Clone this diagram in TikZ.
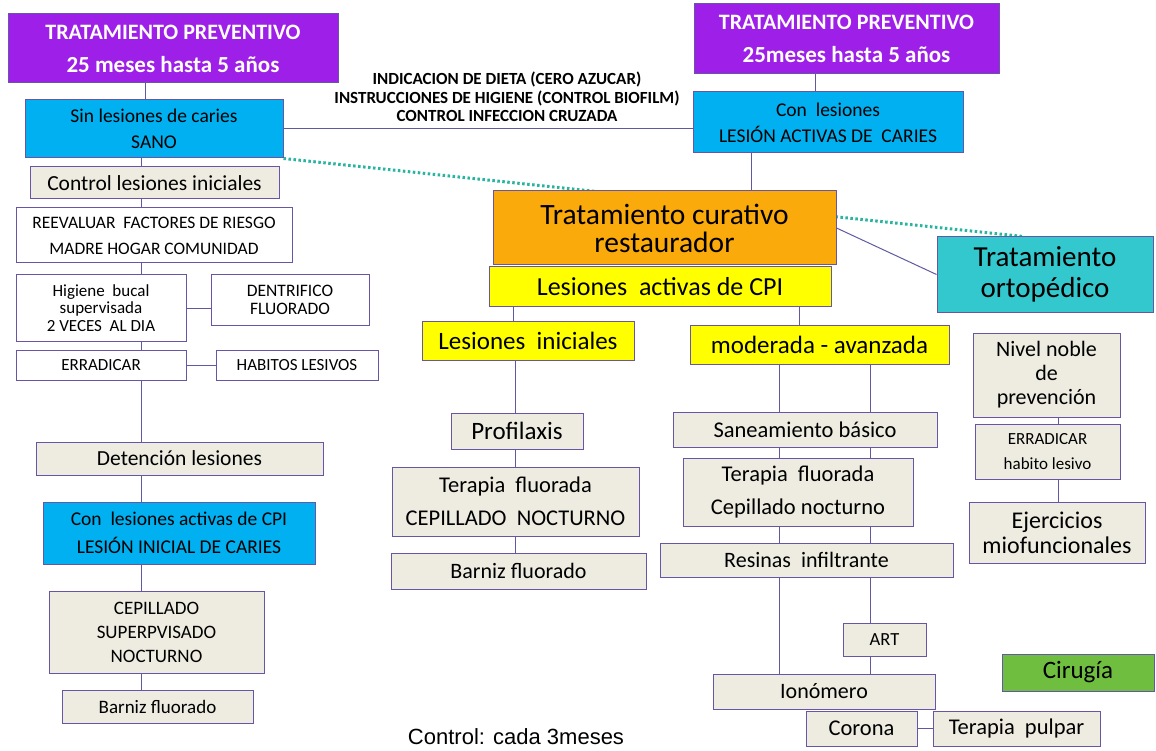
\documentclass[tikz,border=0pt]{standalone}
\usepackage{fontspec}
\setmainfont{Carlito}
\newfontfamily\arialfont{Liberation Sans}
\usetikzlibrary{calc,backgrounds}

\definecolor{violeta}{RGB}{158,31,232}
\definecolor{celeste}{RGB}{0,176,240}
\definecolor{naranja}{RGB}{250,170,10}
\definecolor{amarillo}{RGB}{255,255,0}
\definecolor{turquesa}{RGB}{50,200,205}
\definecolor{verde}{RGB}{112,190,64}
\definecolor{beige}{RGB}{238,236,225}
\definecolor{borde}{RGB}{105,85,165}
\definecolor{linea}{RGB}{95,90,160}
\definecolor{punteado}{RGB}{40,180,160}

\newcommand{\fs}[2]{\fontsize{#1}{#2}\selectfont}

\begin{document}
\begin{tikzpicture}[x=1pt, y=-1pt,
    box/.style={draw=borde, line width=1pt, fill=beige, inner sep=0pt, align=center},
    blanco/.style={box, fill=white},
    prev/.style={box, fill=violeta, text=white, font=\bfseries\fs{22}{33}},
    azul/.style={box, fill=celeste, font=\fs{19.5}{26}},
    amar/.style={box, fill=amarillo, font=\fs{25}{28}},
    link/.style={linea, line width=1pt},
    dotline/.style={punteado, line width=3pt, dash pattern=on 2.5pt off 2.5pt}]
    \useasboundingbox (0,0) rectangle (1156,751);

    % preventive headers
    \node[prev, minimum width=330pt, minimum height=69pt] (prevL) at (173,48.5)
      {TRATAMIENTO PREVENTIVO\\ \fs{23}{33}25 meses hasta 5 años};
    \node[prev, minimum width=305pt, minimum height=70pt] (prevR) at (846.5,39)
      {TRATAMIENTO PREVENTIVO\\ \fs{23}{33}25meses hasta 5 años};

    % first level
    \node[azul, minimum width=258pt, minimum height=58pt] (sano) at (154,129)
      {Sin lesiones de caries\\SANO};
    \node[azul, minimum width=270pt, minimum height=61pt] (conles) at (828,122.5)
      {Con\ \ lesiones\\LESIÓN ACTIVAS DE\ \ CARIES};
    \node[align=center, font=\bfseries\fs{17}{18.5}] (consejos) at (507,97)
      {INDICACION DE DIETA (CERO AZUCAR)\\INSTRUCCIONES DE HIGIENE (CONTROL BIOFILM)\\CONTROL INFECCION CRUZADA};

    % left column
    \node[box, minimum width=249pt, minimum height=32pt, font=\fs{21.5}{24}] (ctrlIni) at (154.5,183)
      {Control lesiones iniciales};
    \node[blanco, minimum width=276pt, minimum height=55pt, font=\fs{17.5}{26}] (reeval) at (154,235.5)
      {REEVALUAR\ \ FACTORES DE RIESGO\\MADRE HOGAR COMUNIDAD};
    \node[blanco, minimum width=170pt, minimum height=66pt, font=\fs{17}{17.5}] (higiene) at (101,308)
      {Higiene\ \ bucal\\supervisada\\2 VECES\ \ AL DIA};
    \node[blanco, minimum width=158pt, minimum height=50pt, font=\fs{17.5}{17.5}] (dentri) at (290,300)
      {DENTRIFICO\\FLUORADO};
    \node[blanco, minimum width=170pt, minimum height=30pt, font=\fs{17}{20}] (errad) at (101,365)
      {ERRADICAR};
    \node[blanco, minimum width=162pt, minimum height=30pt, font=\fs{17}{20}] (habitos) at (297,365)
      {HABITOS LESIVOS};
    \node[box, minimum width=287pt, minimum height=33pt, font=\fs{21.5}{24}] (deten) at (179.5,458.5)
      {Detención lesiones};
    \node[azul, minimum width=272pt, minimum height=62pt, font=\fs{19.5}{28}] (conCPI) at (179,533)
      {Con\ \ lesiones activas de CPI\\LESIÓN INICIAL DE CARIES};
    \node[box, minimum width=215pt, minimum height=82pt, font=\fs{19}{24}] (cepSup) at (156.5,632)
      {CEPILLADO\\SUPERPVISADO\\NOCTURNO};
    \node[box, minimum width=191pt, minimum height=33pt, font=\fs{19}{22}] (barnizL) at (157.5,706.5)
      {Barniz fluorado};

    % curative branch
    \node[box, fill=naranja, minimum width=343pt, minimum height=74pt, font=\fs{29.5}{28}] (curativo) at (664.5,228)
      {Tratamiento curativo\\restaurador};
    \node[amar, minimum width=342pt, minimum height=39pt, font=\fs{26}{28}] (lesCPI) at (660,286.5)
      {Lesiones\ \ activas de CPI};
    \node[amar, minimum width=212pt, minimum height=39pt] (lesIni) at (528,340.5)
      {Lesiones\ \ iniciales};
    \node[amar, minimum width=259pt, minimum height=39pt] (modAv) at (819.5,344.5)
      {moderada - avanzada};
    \node[box, minimum width=132pt, minimum height=36pt, font=\fs{25}{28}] (profil) at (517,431)
      {Profilaxis};
    \node[box, minimum width=247pt, minimum height=69pt, font=\fs{22.5}{33}] (terapiaA) at (515.5,501.5)
      {Terapia\ \ fluorada\\CEPILLADO\ \ NOCTURNO};
    \node[box, minimum width=255pt, minimum height=36pt, font=\fs{22}{25}] (barnizM) at (518.5,571)
      {Barniz fluorado};
    \node[box, minimum width=264pt, minimum height=35pt, font=\fs{22.5}{25}] (saneam) at (805,429.5)
      {Saneamiento básico};
    \node[box, minimum width=230pt, minimum height=68pt, font=\fs{22.5}{33}] (terapiaB) at (798,492)
      {Terapia\ \ fluorada\\Cepillado nocturno};
    \node[box, minimum width=293pt, minimum height=34pt, font=\fs{22}{25}] (resinas) at (806.5,560)
      {Resinas\ \ infiltrante};
    \node[box, minimum width=83pt, minimum height=33pt, font=\fs{18.5}{21}] (art) at (884.5,639.5)
      {ART};
    \node[box, minimum width=222pt, minimum height=35pt, font=\fs{22}{25}] (ionom) at (824,691.5)
      {Ionómero};
    \node[box, minimum width=111pt, minimum height=35pt, font=\fs{22.5}{25}] (corona) at (861.5,728.5)
      {Corona};
    \node[box, minimum width=167pt, minimum height=35pt, font=\fs{22.5}{25}] (pulpar) at (1016.5,728.5)
      {Terapia\ \ pulpar};
    \node[box, fill=verde, minimum width=152pt, minimum height=37pt, font=\fs{25}{28}] (cirugia) at (1078,672.5)
      {Cirugía};

    % orthopedic branch
    \node[box, fill=turquesa, minimum width=216pt, minimum height=75pt, font=\fs{29}{31}] (ortop) at (1045,274.5)
      {Tratamiento\\ortopédico};
    \node[box, minimum width=147pt, minimum height=84pt, font=\fs{22}{24}] (nivel) at (1046.5,375)
      {Nivel noble\\de\\prevención};
    \node[box, minimum width=145pt, minimum height=55pt, font=\fs{17}{25}] (erradR) at (1047.5,451.5)
      {ERRADICAR\\habito lesivo};
    \node[box, minimum width=176pt, minimum height=61pt, font=\fs{24}{25}] (ejerc) at (1057,532.5)
      {Ejercicios\\miofuncionales};

    % control
    \node[font=\arialfont\fs{22}{24}] (control) at (516,737) {Control: cada 3meses};

    % connectors
    \begin{scope}[on background layer]
      \draw[dotline] (sano.south east) -- ($(ortop.north west)!0.4!(ortop.north east)$);
    \end{scope}
    \draw[link] (prevL.south -| 145,0) -- (sano.north -| 145,0);
    \draw[link] (prevR.south -| 815,0) -- (conles.north -| 815,0);
    \draw[link] (sano.east) -- (sano.east -| conles.west);
    \draw[link] (conles.south -| 751,0) -- (curativo.north -| 751,0);
    \draw[link] (curativo.east) -- (ortop.west);
    \foreach \a/\b in {sano/ctrlIni, ctrlIni/reeval, reeval/higiene, higiene/errad,
                       errad/deten, deten/conCPI, conCPI/cepSup, cepSup/barnizL}
      \draw[link] (\a.south -| 141,0) -- (\b.north -| 141,0);
    \draw[link] (higiene.east) -- (higiene.east -| dentri.west);
    \draw[link] (errad.east) -- (habitos.west);
    \draw[link] (lesCPI.south -| 513,0) -- (lesIni.north -| 513,0);
    \foreach \a/\b in {lesIni/profil, profil/terapiaA, terapiaA/barnizM}
      \draw[link] (\a.south -| 515,0) -- (\b.north -| 515,0);
    \draw[link] (lesCPI.south -| 799,0) -- (modAv.north -| 799,0);
    \foreach \a/\b in {modAv/saneam, saneam/terapiaB, terapiaB/resinas, resinas/ionom}
      \draw[link] (\a.south -| 779,0) -- (\b.north -| 779,0);
    \foreach \a/\b in {modAv/saneam, saneam/terapiaB, terapiaB/resinas, resinas/art, art/ionom}
      \draw[link] (\a.south -| 870,0) -- (\b.north -| 870,0);
    \draw[link] (corona.east) -- (pulpar.west);
    \foreach \a/\b in {nivel/erradR, erradR/ejerc}
      \draw[link] (\a.south -| 1058,0) -- (\b.north -| 1058,0);
\end{tikzpicture}
\end{document}
